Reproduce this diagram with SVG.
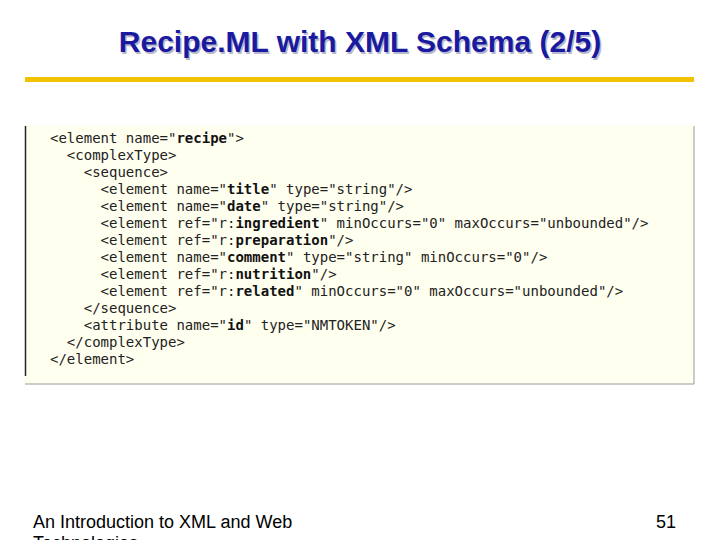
<svg xmlns="http://www.w3.org/2000/svg" width="720" height="540" viewBox="0 0 720 540">
<style>
.t{font-family:"Liberation Sans",Arial,sans-serif;font-weight:bold;font-size:30px;text-anchor:middle}
.c{font-family:"DejaVu Sans Mono",monospace;font-size:14px;fill:#222}
.c tspan.b{font-weight:bold;fill:#111}
.f{font-family:"Liberation Sans",Arial,sans-serif;font-size:18px;fill:#000}
</style>
<rect width="720" height="540" fill="#fff"/>
<g id="title">
<text class="t" x="361.5" y="53.5" fill="#b8b8cc">Recipe.ML with XML Schema (2/5)</text>
<text class="t" x="360" y="52" fill="#1a1aa0">Recipe.ML with XML Schema (2/5)</text>
<rect x="25" y="77" width="669" height="5" fill="#f2c200"/>
</g>
<g id="code">
<rect x="25" y="126" width="669" height="258" fill="#fffff0"/>
<line x1="694" y1="126" x2="694" y2="384" stroke="#999" stroke-width="1"/>
<line x1="25" y1="384" x2="694" y2="384" stroke="#999" stroke-width="1"/>
<line x1="25.5" y1="126" x2="25.5" y2="376" stroke="#222" stroke-width="1.5"/>
<text class="c" x="50" y="143" xml:space="preserve">&lt;element name="<tspan class="b">recipe</tspan>"&gt;</text>
<text class="c" x="50" y="160" xml:space="preserve">  &lt;complexType&gt;</text>
<text class="c" x="50" y="177" xml:space="preserve">    &lt;sequence&gt;</text>
<text class="c" x="50" y="194" xml:space="preserve">      &lt;element name="<tspan class="b">title</tspan>" type="string"/&gt;</text>
<text class="c" x="50" y="211" xml:space="preserve">      &lt;element name="<tspan class="b">date</tspan>" type="string"/&gt;</text>
<text class="c" x="50" y="228" xml:space="preserve">      &lt;element ref="r:<tspan class="b">ingredient</tspan>" minOccurs="0" maxOccurs="unbounded"/&gt;</text>
<text class="c" x="50" y="245" xml:space="preserve">      &lt;element ref="r:<tspan class="b">preparation</tspan>"/&gt;</text>
<text class="c" x="50" y="262" xml:space="preserve">      &lt;element name="<tspan class="b">comment</tspan>" type="string" minOccurs="0"/&gt;</text>
<text class="c" x="50" y="279" xml:space="preserve">      &lt;element ref="r:<tspan class="b">nutrition</tspan>"/&gt;</text>
<text class="c" x="50" y="296" xml:space="preserve">      &lt;element ref="r:<tspan class="b">related</tspan>" minOccurs="0" maxOccurs="unbounded"/&gt;</text>
<text class="c" x="50" y="313" xml:space="preserve">    &lt;/sequence&gt;</text>
<text class="c" x="50" y="330" xml:space="preserve">    &lt;attribute name="<tspan class="b">id</tspan>" type="NMTOKEN"/&gt;</text>
<text class="c" x="50" y="347" xml:space="preserve">  &lt;/complexType&gt;</text>
<text class="c" x="50" y="364" xml:space="preserve">&lt;/element&gt;</text>
</g>
<g id="footer">
<text class="f" x="33" y="528">An Introduction to XML and Web</text>
<text class="f" x="33" y="549">Technologies</text>
<text class="f" x="676" y="528" text-anchor="end">51</text>
</g>
</svg>
